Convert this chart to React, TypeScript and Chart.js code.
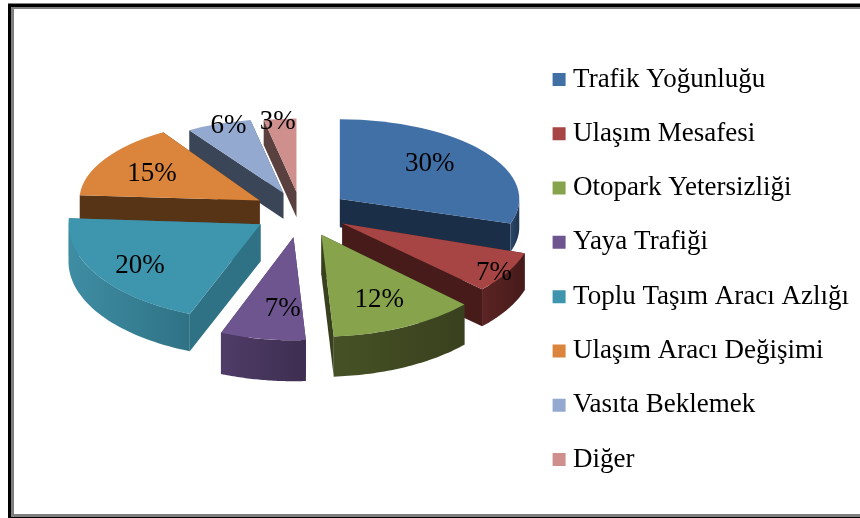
import React, { useEffect, useRef } from "react";
import { Chart, registerables } from "chart.js";

Chart.register(...registerables);

const categories = [
  "Trafik Yoğunluğu",
  "Ulaşım Mesafesi",
  "Otopark Yetersizliği",
  "Yaya Trafiği",
  "Toplu Taşım Aracı Azlığı",
  "Ulaşım Aracı Değişimi",
  "Vasıta Beklemek",
  "Diğer",
];
const shares = [30, 7, 12, 7, 20, 15, 6, 3];
const topColors = ["#4170A6", "#A64543", "#87A44D", "#6F5590", "#3E96AE", "#DA843C", "#93A9D0", "#CE8F8D"];
const sideColors = ["#1B2E47", "#461B1A", "#39401E", "#3F2F50", "#2F7285", "#583416", "#3A4557", "#5A403F"];
const rimLight = ["#2A4669", "#5A2423", "#465225", "#503C68", "#3F8DA3", "#6F431C", "#4A5870", "#6E4F4E"];
const rimDark = ["#1F3550", "#461B1A", "#39401E", "#3D2E50", "#2F7285", "#583416", "#3A4557", "#5A403F"];
const labelReach = [0.62, 0.95, 0.74, 0.74, 0.78, 0.7, 0.85, 0.9];
const labelNudgeX = [0, -5, -4, 12, 6, 1, 0, -4];
const labelNudgeY = [-6, 3, -3, -4, 1, 2, -8, -4];

const SERIF = "'Liberation Serif', 'Times New Roman', serif";
const CX = 301;
const CY = 211;
const EXPLODE = 48;

const squash = (mid: number) => 0.475 + 0.08 * Math.sin(mid);
const widen = (mid: number) => 1 + 0.06 * Math.sin(mid);
const depthOf = (mid: number) => 33 + 8 * Math.sin(mid);

const pie3d = {
  id: "pie3d",
  beforeDraw(chart: any) {
    const { ctx, width, height } = chart;
    ctx.save();
    ctx.fillStyle = "#ffffff";
    ctx.fillRect(0, 0, width, height);
    ctx.fillStyle = "#7f7f7f";
    ctx.fillRect(8, 3, width - 8, 6);
    ctx.fillRect(8, 3, 6, height - 3);
    ctx.fillRect(8, 514, width - 8, 3);
    ctx.fillStyle = "#000000";
    ctx.fillRect(8, 4, width - 8, 3);
    ctx.fillRect(8, 4, 3, height - 4);
    ctx.fillRect(8, 517, width - 8, 1);
    ctx.restore();
  },
  beforeDatasetsDraw(chart: any) {
    const { ctx } = chart;
    const arcs = chart.getDatasetMeta(0).data as any[];
    const items = arcs.map((arc, i) => {
      const mid = (arc.startAngle + arc.endAngle) / 2;
      return {
        arc,
        i,
        mid,
        k: squash(mid),
        w: widen(mid),
        d: depthOf(mid),
        ox: Math.cos(mid) * EXPLODE,
        oy: Math.sin(mid) * EXPLODE,
      };
    });
    items.sort((a, b) => a.oy * a.k - b.oy * b.k);

    for (const s of items) {
      const { arc, i, k, w, d, ox, oy } = s;
      const r = arc.outerRadius;
      const ax = CX + ox;
      const ay = CY + k * oy;
      const px = (a: number) => ax + w * r * Math.cos(a);
      const py = (a: number) => ay + k * r * Math.sin(a);
      ctx.save();
      ctx.fillStyle = sideColors[i];
      for (const edge of [arc.startAngle, arc.endAngle]) {
        ctx.beginPath();
        ctx.moveTo(ax, ay);
        ctx.lineTo(px(edge), py(edge));
        ctx.lineTo(px(edge), py(edge) + d);
        ctx.lineTo(ax, ay + d);
        ctx.closePath();
        ctx.fill();
      }
      const from = Math.max(arc.startAngle, 0);
      const to = Math.min(arc.endAngle, Math.PI);
      if (to > from) {
        const grad = ctx.createLinearGradient(px(from), 0, px(to), 0);
        grad.addColorStop(0, rimDark[i]);
        grad.addColorStop(1, rimLight[i]);
        ctx.fillStyle = grad;
        ctx.beginPath();
        const steps = 40;
        for (let n = 0; n <= steps; n++) {
          const a = from + ((to - from) * n) / steps;
          if (n === 0) ctx.moveTo(px(a), py(a));
          else ctx.lineTo(px(a), py(a));
        }
        for (let n = steps; n >= 0; n--) {
          const a = from + ((to - from) * n) / steps;
          ctx.lineTo(px(a), py(a) + d);
        }
        ctx.closePath();
        ctx.fill();
      }
      ctx.restore();

      ctx.save();
      ctx.translate(ax, ay);
      ctx.scale(w, k);
      ctx.translate(-arc.x, -arc.y);
      arc.draw(ctx);
      ctx.restore();
    }

    ctx.save();
    ctx.fillStyle = "#000000";
    ctx.font = `27px ${SERIF}`;
    ctx.textAlign = "center";
    ctx.textBaseline = "middle";
    for (const s of items) {
      const r = s.arc.outerRadius * labelReach[s.i];
      const x = CX + s.ox + s.w * r * Math.cos(s.mid) + labelNudgeX[s.i];
      const y = CY + s.k * (s.oy + r * Math.sin(s.mid)) + labelNudgeY[s.i];
      ctx.fillText(`${shares[s.i]}%`, x, y);
    }
    ctx.restore();
    return false;
  },
};

export default function App() {
  const ref = useRef<HTMLCanvasElement>(null);
  useEffect(() => {
    document.body.style.margin = "0";
    const chart = new Chart(ref.current!, {
      type: "pie",
      data: {
        labels: categories,
        datasets: [
          {
            data: shares,
            backgroundColor: topColors,
            borderWidth: 0,
            radius: 186,
          } as any,
        ],
      },
      options: {
        responsive: false,
        animation: false,
        layout: { padding: { top: 21, bottom: 0, left: 0, right: 1 } },
        plugins: {
          tooltip: { enabled: false },
          legend: {
            position: "right",
            labels: {
              usePointStyle: true,
              pointStyle: "rect",
              boxWidth: 1,
              boxHeight: 13,
              padding: 27.3,
              color: "#000000",
              font: { family: SERIF, size: 27 },
            },
          },
        },
      },
      plugins: [pie3d],
    } as any);
    return () => chart.destroy();
  }, []);
  return (
    <canvas
      ref={ref}
      width={860}
      height={518}
      style={{ display: "block", position: "absolute", left: 0, top: 0, width: 860, height: 518 }}
    />
  );
}
